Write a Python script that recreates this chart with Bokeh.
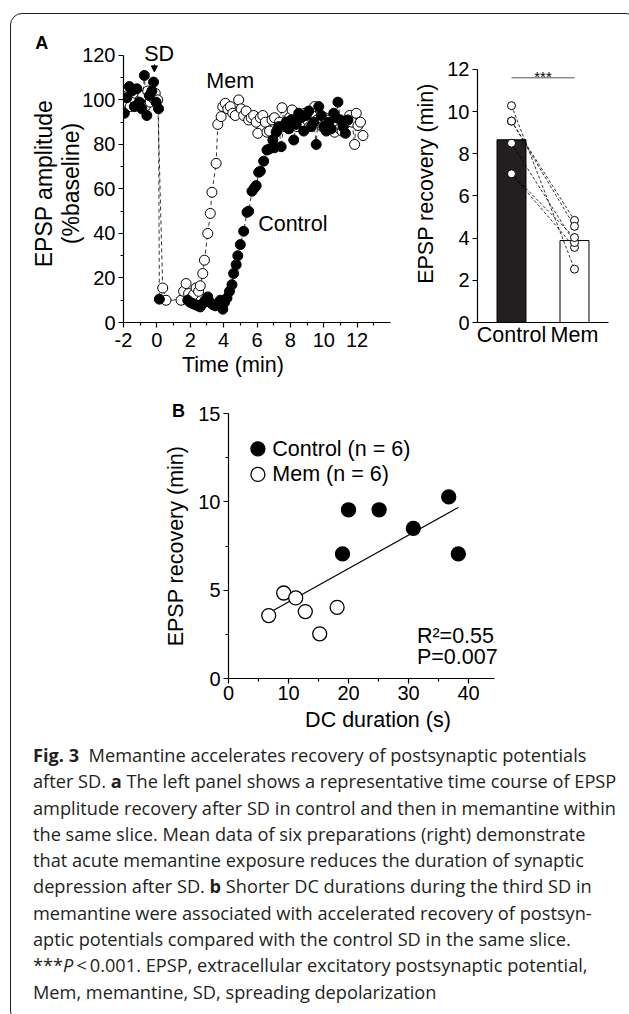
import numpy as np
from bokeh.plotting import figure
from bokeh.layouts import column, row
from bokeh.models import (FixedTicker, Label, Arrow, NormalHead, Div, FactorRange, Range1d,
                          Title, Spacer)
from bokeh.embed import file_html
from bokeh.resources import INLINE

FONT = "Liberation Sans"

# ---------------- Panel A (left): representative time course ----------------
ctrl_time = [-1.95, -1.8, -1.65, -1.5, -1.35, -1.2, -1.05, -0.9, -0.75, -0.6, -0.45, -0.3, -0.2, -0.05, 0.1,
             0.15,
             1.85, 2.0, 2.15, 2.3, 2.45, 2.6, 2.75, 2.9, 3.05, 3.2, 3.35, 3.5, 3.65, 3.8, 3.95, 4.05, 4.2,
             4.35, 4.5, 4.6, 4.75, 4.85, 5.0, 5.2, 5.4, 5.5, 5.7, 5.85, 5.95, 6.1, 6.2, 6.4, 6.6, 6.75,
             6.95, 7.05, 7.15, 7.3, 7.45, 7.6, 7.75, 7.9, 8.05, 8.2, 8.35, 8.5, 8.65, 8.8, 8.95, 9.1,
             9.25, 9.4, 9.55, 9.7, 9.85, 10.0, 10.15, 10.3, 10.45, 10.6, 10.75, 10.85, 11.0, 11.15,
             11.3, 11.45]
ctrl_amp = [94, 101, 106, 104, 97, 105, 99, 96, 111, 93, 102, 104, 108, 99, 96,
            10.5,
            10, 9, 8.5, 8, 7.5, 7, 8.5, 10, 11.5, 9, 8, 7.5, 8.5, 10, 6, 9, 11,
            14, 17, 22, 26, 30, 35, 41, 49.5, 50, 59, 60.5, 61.5, 67.5, 68, 72.5, 77.5, 78,
            82, 78.5, 85.5, 88, 79, 88.5, 90, 87, 91, 82, 89, 94, 92, 86, 93, 95,
            88, 90, 80, 97, 93, 88, 86, 90, 87, 94, 92, 99, 91, 88,
            85, 91]

mem_time = [-1.9, -1.75, -1.6, -1.45, -1.3, -1.15, -1.0, -0.85, -0.7, -0.55, -0.4, -0.25, -0.1, 0.05,
            0.35, 0.55,
            1.45, 1.6, 1.75, 1.9, 2.05, 2.2, 2.35, 2.5, 2.6, 2.75, 2.85, 3.05, 3.2, 3.3, 3.55, 3.65,
            3.85, 3.95, 4.1, 4.25, 4.4, 4.55, 4.7, 4.9, 5.05, 5.2, 5.35, 5.5, 5.65, 5.8, 5.95, 6.05,
            6.2, 6.35, 6.5, 6.6, 6.75, 6.9, 7.05, 7.2, 7.35, 7.5, 7.65, 7.8, 7.95, 8.1, 8.25, 8.4,
            8.55, 8.7, 8.85, 9.0, 9.15, 9.3, 9.45, 9.6, 9.75, 9.9, 10.05, 10.2, 10.35, 10.5, 10.65,
            10.8, 10.95, 11.1, 11.25, 11.4, 11.55, 11.7, 11.85, 11.95, 12.05, 12.2, 12.35]
mem_amp = [99, 102, 97, 101, 103, 98, 100, 102, 97, 104, 99, 101, 103, 100,
           15.5, 10,
           10, 14, 17.5, 13, 11, 12.5, 15.5, 14, 16.5, 22, 28, 40, 49, 58.5, 71.5, 89,
           92.5, 97, 98.5, 96, 97, 94, 93, 100, 96, 93, 95, 91, 92, 93, 90, 85,
           92, 93, 90, 85.5, 86, 91, 92, 86, 90, 96.5, 88, 90, 92, 95.5, 90, 88,
           92, 90, 94, 91, 88, 93, 97, 91, 90, 88, 92, 89, 91, 88, 85.5,
           90, 87, 86, 89, 90, 93, 90, 80, 94, 88.5, 90, 84]

time_ticks = [-2, 0, 2, 4, 6, 8, 10, 12]
time_minor = [-1, 1, 3, 5, 7, 9, 11, 13]
amp_ticks = [0, 20, 40, 60, 80, 100, 120]
amp_minor = [10, 30, 50, 70, 90, 110]

# ---------------- Panel A (right) and Panel B ----------------
groups = ["Control", "Mem"]
ctrl_dc = [19.0, 20.0, 25.1, 30.8, 36.7, 38.3]
ctrl_rec = [7.05, 9.55, 9.55, 8.5, 10.28, 7.05]
mem_dc = [6.7, 9.2, 11.2, 12.8, 15.2, 18.1]
mem_rec = [3.56, 4.84, 4.56, 3.79, 2.53, 4.03]

rec_ticks = [0, 2, 4, 6, 8, 10, 12]
dc_ticks = [0, 10, 20, 30, 40]
dc_minor = [5, 15, 25, 35]
recB_ticks = [0, 5, 10, 15]
recB_minor = [2.5, 7.5, 12.5]

TICK = "20px"
LAB = "21.5px"


def style(p):
    for ax in list(p.xaxis) + list(p.yaxis):
        ax.axis_line_width = 1.2
        ax.axis_line_color = "black"
        ax.major_tick_line_width = 1.2
        ax.minor_tick_line_width = 1.2
        ax.major_tick_line_color = "black"
        ax.minor_tick_line_color = "black"
        ax.major_tick_in = 0
        ax.major_tick_out = 5
        ax.minor_tick_in = 0
        ax.minor_tick_out = 3
        ax.major_label_text_font = FONT
        ax.major_label_text_font_size = TICK
        ax.major_label_text_color = "black"
        ax.axis_label_text_font = FONT
        ax.axis_label_text_font_size = LAB
        ax.axis_label_text_font_style = "normal"
        ax.axis_label_text_color = "black"
        ax.major_label_standoff = 3
    p.grid.visible = False
    p.outline_line_color = None
    p.background_fill_color = None
    p.border_fill_color = None


def lab(p, x, y, text, size=LAB, align="left", baseline="middle"):
    p.add_layout(Label(x=x, y=y, text=text, text_font=FONT, text_font_size=size,
                       text_align=align, text_baseline=baseline, text_color="black"))


def corner_title(p, text, size, offset, standoff):
    p.title.text = text
    p.title.text_font = FONT
    p.title.text_font_size = size
    p.title.text_font_style = "bold"
    p.title.text_color = "black"
    p.title.align = "left"
    p.title.offset = offset
    p.title.standoff = standoff


# ---- Panel A left ----
pA = figure(width=400, height=381,
            min_border_left=112, min_border_right=21, min_border_top=30, min_border_bottom=73,
            x_range=Range1d(-2, 14), y_range=Range1d(0, 124.9),
            output_backend="svg", toolbar_location=None)
style(pA)
pA.xaxis.ticker = FixedTicker(ticks=time_ticks, minor_ticks=time_minor)
pA.xaxis.major_label_overrides = {t: str(t) for t in time_ticks}
pA.xaxis.major_label_standoff = 5
pA.yaxis.ticker = FixedTicker(ticks=amp_ticks, minor_ticks=amp_minor)
pA.yaxis.bounds = (0, 120)
pA.yaxis.axis_label = "EPSP amplitude\n(%baseline)"
pA.yaxis.axis_label_text_font_size = "23px"
pA.yaxis.axis_label_text_line_height = 1.05
pA.yaxis.axis_label_standoff = -5

pA.line(mem_time, mem_amp, line_color="black", line_width=0.8, line_dash="4 3")
pA.line(ctrl_time, ctrl_amp, line_color="black", line_width=0.8, line_dash="4 3")
pA.scatter(mem_time, mem_amp, size=10, fill_color="white", line_color="black", line_width=1)
pA.scatter(ctrl_time, ctrl_amp, size=10, fill_color="black", line_color="black", line_width=1)

pA.add_layout(Arrow(end=NormalHead(size=6, fill_color="black", line_color="black"),
                    x_start=-0.15, y_start=116, x_end=-0.15, y_end=112.6,
                    line_color="black", line_width=1))
lab(pA, 0.14, 120.8, "SD", align="center")
lab(pA, 2.96, 108.5, "Mem")
lab(pA, 6.07, 44.2, "Control")
corner_title(pA, "A", "18px", -88.3, -16)
pA.add_layout(Title(text="Time (min)", text_font=FONT, text_font_size=LAB,
                    text_font_style="normal", text_color="black",
                    align="left", offset=58.4, vertical_align="top", standoff=6), "below")

# ---- Panel A right (bars) ----
pBar = figure(width=216, height=381,
              min_border_left=61, min_border_right=19, min_border_top=30, min_border_bottom=73,
              x_range=FactorRange(*groups, range_padding=0.04, range_padding_units="absolute"),
              y_range=Range1d(0, 13.18),
              output_backend="svg", toolbar_location=None)
style(pBar)
pBar.yaxis.ticker = FixedTicker(ticks=rec_ticks)
pBar.yaxis.bounds = (0, 12)
pBar.yaxis.minor_tick_out = 0
pBar.xaxis.major_tick_out = 0
pBar.xaxis.minor_tick_out = 0
pBar.xaxis.major_label_standoff = 0
pBar.xaxis.major_label_text_font_size = "21.5px"
pBar.yaxis.axis_label = "EPSP recovery (min)"
pBar.yaxis.axis_label_standoff = 6

means = [float(np.mean(ctrl_rec)), float(np.mean(mem_rec))]
pBar.vbar(x=groups, top=means, width=0.46, bottom=0,
          fill_color=["#231f20", "white"], line_color="black", line_width=1)
pBar.segment(x0=[groups[0]] * len(ctrl_rec), y0=ctrl_rec,
             x1=[groups[1]] * len(mem_rec), y1=mem_rec,
             line_color="black", line_width=0.8, line_dash="3 2")
pBar.scatter(x=[groups[0]] * len(ctrl_rec), y=ctrl_rec, size=8,
             fill_color="white", line_color="black", line_width=1)
pBar.scatter(x=[groups[1]] * len(mem_rec), y=mem_rec, size=8,
             fill_color="white", line_color="black", line_width=1)
pBar.segment(x0=[groups[0]], y0=[11.6], x1=[groups[1]], y1=[11.6],
             line_color="#555555", line_width=1)
lab(pBar, 1.0, 11.68, "***", size="15px", align="center", baseline="alphabetic")

# ---- Panel B ----
pB = figure(width=616, height=342,
            min_border_left=217, min_border_right=100, min_border_top=18, min_border_bottom=59,
            x_range=Range1d(0, 49.83), y_range=Range1d(0, 15),
            output_backend="svg", toolbar_location=None)
style(pB)
pB.xaxis.ticker = FixedTicker(ticks=dc_ticks, minor_ticks=dc_minor)
pB.xaxis.bounds = (0, 44.33)
pB.xaxis.major_label_standoff = 2
pB.yaxis.ticker = FixedTicker(ticks=recB_ticks, minor_ticks=recB_minor)
pB.xaxis.axis_label = "DC duration (s)"
pB.xaxis.axis_label_standoff = 5
pB.yaxis.axis_label = "EPSP recovery (min)"
pB.yaxis.axis_label_standoff = 7
corner_title(pB, "B", "18px", -56.6, -14)

all_dc = np.array(ctrl_dc + mem_dc)
all_rec = np.array(ctrl_rec + mem_rec)
slope, intercept = np.polyfit(all_dc, all_rec, 1)
fit_x = np.array([all_dc.min(), all_dc.max()])
pB.line(fit_x, slope * fit_x + intercept, line_color="black", line_width=1.2)
pB.scatter(mem_dc, mem_rec, size=14, fill_color="white", line_color="black", line_width=1.3)
pB.scatter(ctrl_dc, ctrl_rec, size=14, fill_color="black", line_color="black", line_width=1.3)

# legend (drawn manually to match the original's compact layout)
pB.scatter([4.9], [13.0], size=14, fill_color="black", line_color="black", line_width=1.3)
pB.scatter([4.9], [11.55], size=14, fill_color="white", line_color="black", line_width=1.3)
lab(pB, 7.3, 13.0, "Control (n = 6)")
lab(pB, 7.3, 11.55, "Mem (n = 6)")
lab(pB, 31.4, 2.43, "R\u00b2=0.55")
lab(pB, 31.4, 1.19, "P=0.007")

# ---- caption ----
caption_lines = [
    "<b>Fig. 3</b>&nbsp; Memantine accelerates recovery of postsynaptic potentials",
    "after SD. <b>a</b> The left panel shows a representative time course of EPSP",
    "amplitude recovery after SD in control and then in memantine within",
    "the same slice. Mean data of six preparations (right) demonstrate",
    "that acute memantine exposure reduces the duration of synaptic",
    "depression after SD. <b>b</b> Shorter DC durations during the third SD in",
    "memantine were associated with accelerated recovery of postsyn-",
    "aptic potentials compared with the control SD in the same slice.",
    "***<i>P</i>&thinsp;&lt;&thinsp;0.001. EPSP, extracellular excitatory postsynaptic potential,",
    "Mem, memantine, SD, spreading depolarization",
]
cap_html = ('<div style="font-family:\'Open Sans\'; font-size:18.2px; line-height:26.3px; '
            'color:#231f20; white-space:nowrap; padding:0 0 0 17px;">'
            + "<br>".join(caption_lines) + "</div>")
cap = Div(text=cap_html, width=616, height=275)

box = column(row(pA, pBar), pB, cap,
             styles={"border": "1.3px solid #231f20", "border-radius": "12px"})
page = column(Spacer(height=13), row(Spacer(width=10), box))

open("out.html", "w").write(file_html(page, INLINE))
